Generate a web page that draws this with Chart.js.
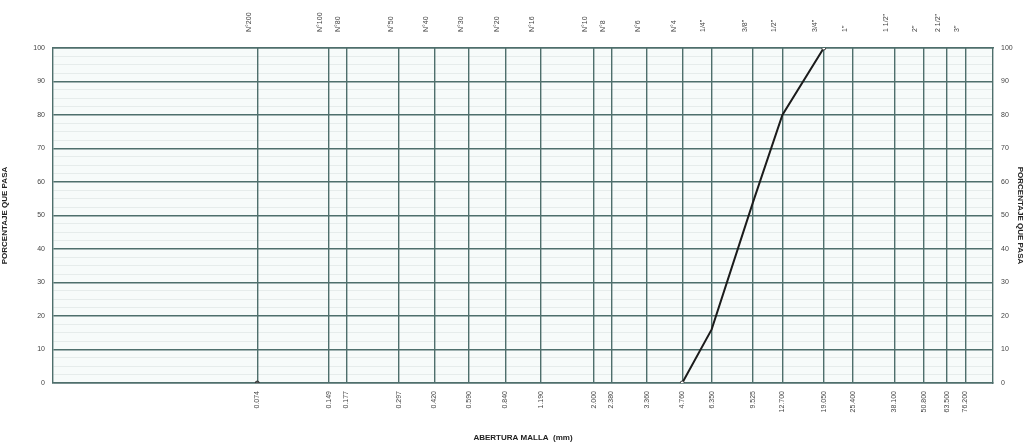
<!DOCTYPE html>
<html>
<head>
<meta charset="utf-8">
<script src="https://cdn.jsdelivr.net/npm/chart.js@4/dist/chart.umd.min.js"></script>
<style>
  html, body { margin: 0; padding: 0; background: #ffffff; }
  #wrap { width: 1033px; height: 443px; }
</style>
</head>
<body>
<div id="wrap"><canvas id="granChart" width="1033" height="443"></canvas></div>
<script>
// sieve openings (mm) and their names
const sieveSizes = [0.074, 0.149, 0.177, 0.297, 0.420, 0.590, 0.840, 1.190, 2.000, 2.380, 3.360, 4.760,
                    6.350, 9.525, 12.700, 19.050, 25.400, 38.100, 50.800, 63.500, 76.200];
const sieveNames = ['N°200', 'N°100', 'N°80', 'N°50', 'N°40', 'N°30', 'N°20', 'N°16', 'N°10', 'N°8', 'N°6', 'N°4',
                    '1/4"', '3/8"', '1/2"', '3/4"', '1"', '1 1/2"', '2"', '2 1/2"', '3"'];
const sizeLabels = ['0.074', '0.149', '0.177', '0.297', '0.420', '0.590', '0.840', '1.190', '2.000', '2.380', '3.360', '4.760',
                    '6.350', '9.525', '12.700', '19.050', '25.400', '38.100', '50.800', '63.500', '76.200'];

// curve: opening vs percent passing
const curveSizes = [4.760, 6.350, 9.525, 12.700, 19.050];
const curvePassing = [0, 16, 54, 80, 100];
const originSize = [0.074];
const originPassing = [0];

const gridDark = '#4f6f6c';
const gridLight = 'rgba(110, 135, 135, 0.12)';
const labelFont = { family: 'Liberation Sans', size: 7 };
const titleFont = { family: 'Liberation Sans', size: 8, weight: 'bold' };

function sieveTicks(axis) {
    axis.ticks = sieveSizes.map(v => ({ value: v }));
}

// light tint behind the plot area
const plotBg = {
    id: 'plotBg',
    beforeDraw(chart) {
        const a = chart.chartArea;
        const c = chart.ctx;
        c.save();
        c.fillStyle = '#f7fbfa';
        c.fillRect(a.left, a.top, a.right - a.left, a.bottom - a.top);
        c.restore();
    }
};

const ctx = document.getElementById('granChart').getContext('2d');
new Chart(ctx, {
    type: 'scatter',
    data: {
        datasets: [
            {
                label: 'Curva',
                data: curveSizes.map((s, i) => ({ x: s, y: curvePassing[i] })),
                showLine: true,
                borderColor: '#1c1c1c',
                borderWidth: 2,
                pointRadius: [2, 0, 0, 0, 2],
                pointBackgroundColor: '#ffffff',
                pointBorderColor: '#333333',
                pointBorderWidth: 1,
                tension: 0
            },
            {
                label: 'origen',
                data: originSize.map((s, i) => ({ x: s, y: originPassing[i] })),
                showLine: false,
                pointRadius: 2,
                pointBackgroundColor: '#555555',
                pointBorderColor: '#333333'
            }
        ]
    },
    plugins: [plotBg],
    options: {
        responsive: false,
        animation: false,
        layout: { padding: 0 },
        plugins: {
            legend: { display: false },
            tooltip: { enabled: false }
        },
        scales: {
            y: {
                position: 'left',
                min: 0,
                max: 100,
                afterBuildTicks: function(axis) {
                    const t = [];
                    for (let v = 0; v <= 100; v += 2.5) t.push({ value: v });
                    axis.ticks = t;
                },
                afterFit: function(axis) { axis.width = 53; },
                grid: {
                    drawTicks: false,
                    color: function(c) {
                        return c.tick && c.tick.value % 10 === 0 ? gridDark : gridLight;
                    },
                    lineWidth: function(c) {
                        return c.tick && c.tick.value % 10 === 0 ? 1.4 : 1;
                    }
                },
                border: { color: gridDark, width: 1.4 },
                ticks: {
                    autoSkip: false,
                    padding: 8,
                    color: '#444444',
                    font: labelFont,
                    callback: function(value) {
                        return value % 10 === 0 ? value : '';
                    }
                },
                title: {
                    display: true,
                    text: 'PORCENTAJE QUE PASA',
                    color: '#222222',
                    font: titleFont,
                    padding: { top: 0, bottom: 12 }
                }
            },
            yRight: {
                position: 'right',
                min: 0,
                max: 100,
                afterFit: function(axis) { axis.width = 40; },
                grid: { display: false, drawTicks: false },
                border: { color: gridDark, width: 1.4 },
                ticks: {
                    stepSize: 10,
                    padding: 8,
                    color: '#444444',
                    font: labelFont
                },
                title: {
                    display: true,
                    text: 'PORCENTAJE QUE PASA',
                    color: '#222222',
                    font: titleFont,
                    padding: { top: 8, bottom: 0 }
                }
            },
            x: {
                type: 'logarithmic',
                position: 'bottom',
                min: 0.01,
                max: 100,
                afterBuildTicks: sieveTicks,
                afterFit: function(axis) { axis.height = 60; },
                grid: {
                    color: gridDark,
                    lineWidth: 1.4,
                    drawTicks: false
                },
                border: { color: gridDark, width: 1.4 },
                ticks: {
                    autoSkip: false,
                    maxRotation: 90,
                    minRotation: 90,
                    padding: 8,
                    color: '#444444',
                    font: labelFont,
                    callback: function(value) {
                        const i = sieveSizes.indexOf(value);
                        return i >= 0 ? sizeLabels[i] : '';
                    }
                },
                title: {
                    display: true,
                    text: 'ABERTURA MALLA  (mm)',
                    color: '#222222',
                    font: titleFont,
                    padding: { top: 14, bottom: 0 }
                }
            },
            xTop: {
                type: 'logarithmic',
                position: 'top',
                min: 0.01,
                max: 100,
                afterBuildTicks: sieveTicks,
                afterFit: function(axis) { axis.height = 48; },
                grid: { display: false, drawTicks: false },
                border: { color: gridDark, width: 1.4 },
                ticks: {
                    autoSkip: false,
                    maxRotation: 90,
                    minRotation: 90,
                    padding: 16,
                    color: '#444444',
                    font: labelFont,
                    callback: function(value) {
                        const i = sieveSizes.indexOf(value);
                        return i >= 0 ? sieveNames[i] : '';
                    }
                }
            }
        }
    }
});
</script>
</body>
</html>
